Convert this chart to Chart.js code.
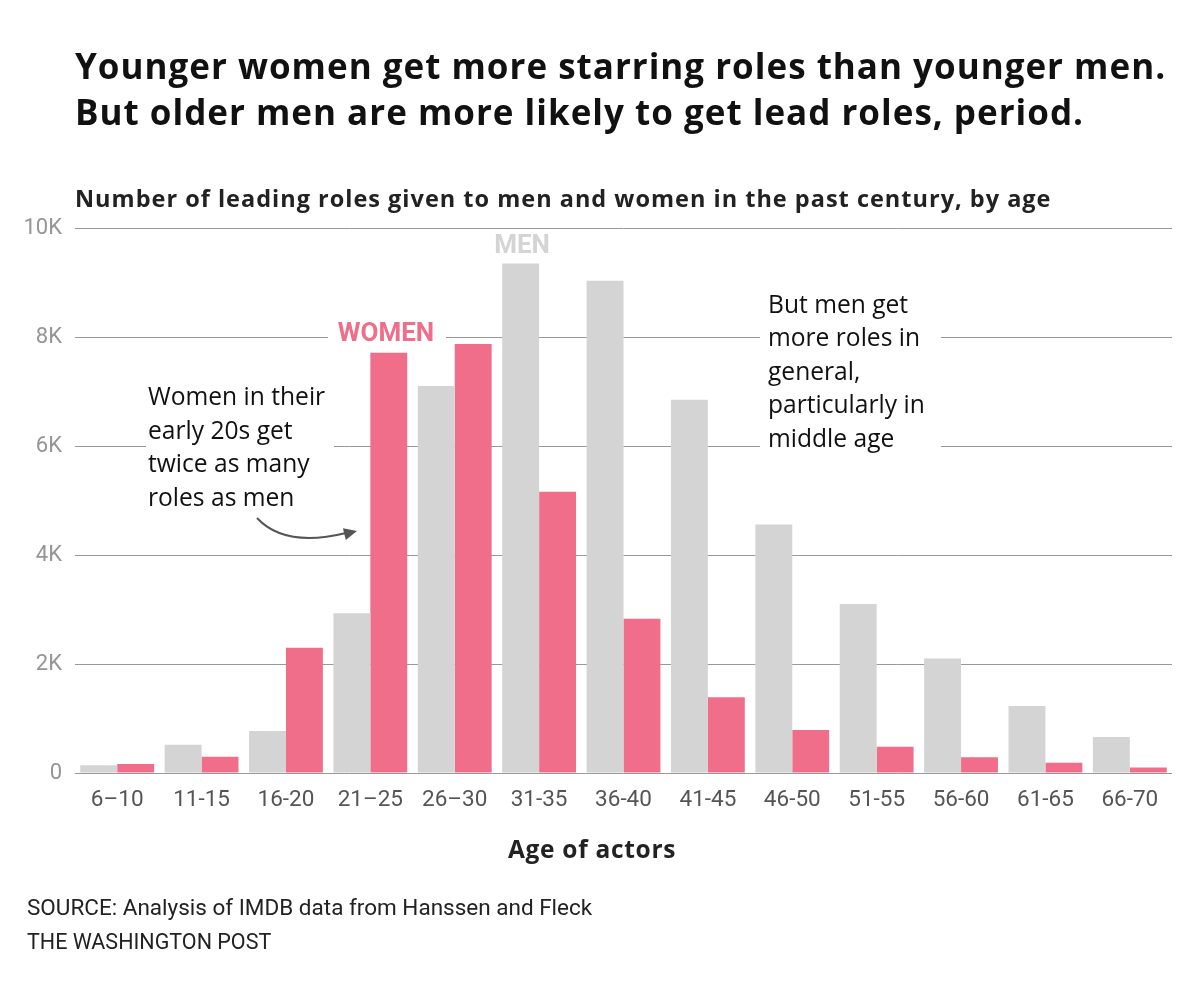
<!DOCTYPE html>
<html>
<head>
<meta charset="utf-8">
<script src="https://cdn.jsdelivr.net/npm/chart.js@4.4.1/dist/chart.umd.min.js"></script>
<style>
  body { margin: 0; background: #fff; }
  #wrap { position: relative; width: 1200px; height: 994px; font-family: Roboto, "Noto Sans", sans-serif; color: #111; }
  #grafico { position: absolute; left: 0; top: 0; }
  .txt { position: absolute; white-space: nowrap; }
  #titulo { left: 75px; top: 43px; font-family: "Open Sans", sans-serif; font-size: 35px; font-weight: 700; line-height: 46px; letter-spacing: 1px; }
  #subtitulo { left: 75px; top: 184px; font-family: "Open Sans", sans-serif; font-size: 23.5px; font-weight: 700; line-height: 28px; letter-spacing: 1px; color: #222; }
  #ejeX { left: 0; width: 1184px; text-align: center; top: 834px; font-family: "Open Sans", sans-serif; font-size: 24.5px; font-weight: 700; line-height: 30px; letter-spacing: 0.7px; color: #222; }
  #fuente { left: 27px; top: 893px; font-size: 22.5px; line-height: 28px; color: #222; }
  #firma { left: 27px; top: 928px; font-size: 21.5px; line-height: 28px; color: #222; }
</style>
</head>
<body>
<div id="wrap">
  <canvas id="grafico" width="1200" height="994"></canvas>
  <div class="txt" id="titulo">Younger women get more starring roles than younger men.<br>But older men are more likely to get lead roles, period.</div>
  <div class="txt" id="subtitulo">Number of leading roles given to men and women in the past century, by age</div>
  <div class="txt" id="ejeX">Age of actors</div>
  <div class="txt" id="fuente">SOURCE: Analysis of IMDB data from Hanssen and Fleck</div>
  <div class="txt" id="firma">THE WASHINGTON POST</div>
</div>
<script>
// Datos
const gruposEdad = ["6–10", "11-15", "16-20", "21–25", "26–30", "31-35", "36-40", "41-45", "46-50", "51-55", "56-60", "61-65", "66-70"];
const rolesHombres = [140, 520, 770, 2930, 7100, 9350, 9030, 6850, 4560, 3100, 2100, 1230, 660];
const rolesMujeres = [165, 300, 2300, 7710, 7870, 5160, 2830, 1390, 790, 480, 290, 190, 100];
const ticksY = [0, 2000, 4000, 6000, 8000, 10000];
const etiquetasY = ["0", "2K", "4K", "6K", "8K", "10K"];

const colorMujeres = "#f06e8a";
const colorHombres = "#d4d4d4";

// Anotaciones: cajas blancas que cortan la grilla + textos y flecha
const anotaciones = {
    id: "anotaciones",
    beforeDatasetsDraw(chart) {
        const ctx = chart.ctx;
        ctx.save();
        ctx.fillStyle = "#fff";
        ctx.fillRect(146, 380, 188, 135);
        ctx.fillRect(760, 290, 181, 165);
        ctx.fillRect(328, 322, 118, 26);
        ctx.restore();
    },
    afterDatasetsDraw(chart) {
        const ctx = chart.ctx;
        ctx.save();
        ctx.textBaseline = "middle";
        ctx.textAlign = "center";
        ctx.font = "700 26px Roboto, sans-serif";
        ctx.fillStyle = colorMujeres;
        ctx.fillText("WOMEN", 386, 334);
        ctx.fillStyle = colorHombres;
        ctx.fillText("MEN", 522, 246);

        ctx.textAlign = "left";
        ctx.font = "24.6px 'Open Sans', sans-serif";
        ctx.fillStyle = "#111";
        ["Women in their", "early 20s get", "twice as many", "roles as men"].forEach((l, i) => {
            ctx.fillText(l, 148, 398 + i * 33.7);
        });
        ["But men get", "more roles in", "general,", "particularly in", "middle age"].forEach((l, i) => {
            ctx.fillText(l, 768, 306 + i * 33.4);
        });

        // flecha curva
        ctx.strokeStyle = "#555";
        ctx.fillStyle = "#555";
        ctx.lineWidth = 2;
        ctx.beginPath();
        ctx.moveTo(257, 518);
        ctx.quadraticCurveTo(285, 548, 346, 533);
        ctx.stroke();
        const ang = Math.atan2(533 - 548, 346 - 285);
        const tx = 357, ty = 531;
        ctx.beginPath();
        ctx.moveTo(tx, ty);
        ctx.lineTo(tx - 13 * Math.cos(ang) + 6 * Math.sin(ang), ty - 13 * Math.sin(ang) - 6 * Math.cos(ang));
        ctx.lineTo(tx - 13 * Math.cos(ang) - 6 * Math.sin(ang), ty - 13 * Math.sin(ang) + 6 * Math.cos(ang));
        ctx.closePath();
        ctx.fill();
        ctx.restore();
    }
};

const ctx = document.getElementById("grafico").getContext("2d");
new Chart(ctx, {
    type: "bar",
    data: {
        labels: gruposEdad,
        datasets: [
            { label: "Men", data: rolesHombres, backgroundColor: colorHombres, borderWidth: 0 },
            { label: "Women", data: rolesMujeres, backgroundColor: colorMujeres, borderWidth: 0 }
        ]
    },
    options: {
        responsive: false,
        animation: false,
        devicePixelRatio: 1,
        layout: { padding: { left: 0, right: 28, top: 228, bottom: 121 } },
        plugins: { legend: { display: false }, tooltip: { enabled: false } },
        datasets: { bar: { categoryPercentage: 0.875, barPercentage: 1.0 } },
        scales: {
            x: {
                grid: { display: false, drawTicks: false },
                border: { display: false },
                ticks: { color: "#555", padding: 14, maxRotation: 0, font: { family: "Roboto", size: 22.5 } },
                afterFit(s) { s.height = 100; }
            },
            y: {
                min: 0,
                max: 10000,
                afterBuildTicks(s) { s.ticks = ticksY.map(v => ({ value: v })); },
                grid: { color: "#999", lineWidth: 1, drawTicks: false },
                border: { display: false },
                ticks: {
                    color: "#959595",
                    padding: 13,
                    font: { family: "Roboto", size: 22 },
                    callback: (v) => etiquetasY[ticksY.indexOf(v)]
                },
                afterFit(s) { s.width = 75; }
            }
        }
    },
    plugins: [anotaciones]
});
</script>
</body>
</html>
